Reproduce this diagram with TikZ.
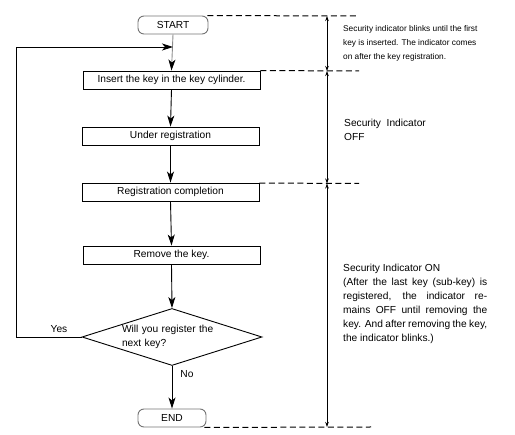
\documentclass[tikz,border=0pt]{standalone}
\usepackage{fontspec}
\setmainfont{Liberation Sans}
\usetikzlibrary{arrows.meta,shapes.geometric}
\begin{document}
\begin{tikzpicture}[x=1pt,y=-1pt,
  boxtext/.style={font=\fontsize{10.2}{14}\selectfont},
  procbox/.style={draw, line width=0.9pt, minimum width=177pt, minimum height=18pt, inner sep=0pt, boxtext},
  termbox/.style={draw=black!55, line width=0.9pt, rounded corners=6pt, minimum height=18pt, inner sep=0pt, boxtext},
  decbox/.style={draw, line width=0.9pt, diamond, aspect=3.16, minimum width=180pt, minimum height=57pt, inner sep=0pt, text width=100pt, align=left, boxtext},
  arr/.style={line width=0.9pt, -{Stealth[length=11pt,width=7pt,inset=3pt,color=black]}},
  dashline/.style={line width=1pt, dash pattern=on 6pt off 3.5pt},
  dimline/.style={line width=0.8pt, {Stealth[length=5pt,width=3.5pt]}-{Stealth[length=5pt,width=3.5pt]}},
  notetext/.style={anchor=north west, inner sep=0pt, align=left},
  lbl/.style={inner sep=0pt, boxtext}
]
\useasboundingbox (0,0) rectangle (515,435);

% flow nodes
\node[termbox, minimum width=70pt] (start) at (173,25) {START};
\node[procbox] (insert) at (171.5,80) {Insert the key in the key cylinder.};
\node[procbox] (under) at (170.5,136) {Under registration};
\node[procbox] (regc) at (170.5,192) {Registration completion};
\node[procbox] (remove) at (171.5,255) {Remove the key.};
\node[decbox] (dec) at (172,337) {\makebox[100pt][s]{Will you register the}\\next key?};
\node[termbox, minimum width=68pt] (end) at (172,418) {END};

% connectors
\coordinate (join) at (173,47);
\coordinate (ltop) at (16,47);
\draw[arr, draw=black!45] (start.south) -- (insert.north);
\draw[arr] (insert.south) -- (under.north);
\draw[arr] (under.south) -- (regc.north);
\draw[arr] (regc.south) -- (remove.north);
\draw[arr] (remove.south) -- (dec.north);
\draw[arr] (dec.south) -- (end.north);
\draw[arr] (dec.west) -| (ltop) -- (join);

\node[lbl] (yes) at (59,329) {Yes};
\node[lbl] (no) at (187,374) {No};

% dashed dividers
\coordinate (dash0) at (359,16);
\coordinate (dash1) at (359,71);
\coordinate (dash2) at (359,183.5);
\coordinate (dash3) at (371,427);
\draw[dashline] (start.north east) ++(-1,0) -- (dash0);
\draw[dashline] (insert.north east) -- (dash1);
\draw[dashline] (regc.north east) ++(0,0.5) -- (dash2);
\draw[dashline] (end.south east) ++(-2,0) -- (dash3);

% dimension line
\coordinate (d0) at (327,16);
\coordinate (d1) at (327,71);
\coordinate (d2) at (327,183.5);
\coordinate (d3) at (327,427);
\draw[dimline] (d0) -- (d1);
\draw[dimline] (d1) -- (d2);
\draw[dimline] (d2) -- (d3);

% notes
\node[notetext, font=\fontsize{8.3}{14}\selectfont] (note1) at (343,25)
  {Security indicator blinks until the first\\key is inserted. The indicator comes\\on after the key registration.};
\node[notetext, font=\fontsize{10.2}{14}\selectfont] (note2) at (344,118.5)
  {Security\ \ Indicator\\OFF};
\node[notetext, font=\fontsize{10.2}{14}\selectfont] (note3) at (343,263.5)
  {Security Indicator ON\\
   \makebox[144pt][s]{(After the last key (sub-key) is}\\
   \makebox[144pt][s]{registered, the indicator re-}\\
   \makebox[144pt][s]{mains OFF until removing the}\\
   \makebox[144pt][s]{key. And after removing the key,}\\
   the indicator blinks.)};
\end{tikzpicture}
\end{document}
